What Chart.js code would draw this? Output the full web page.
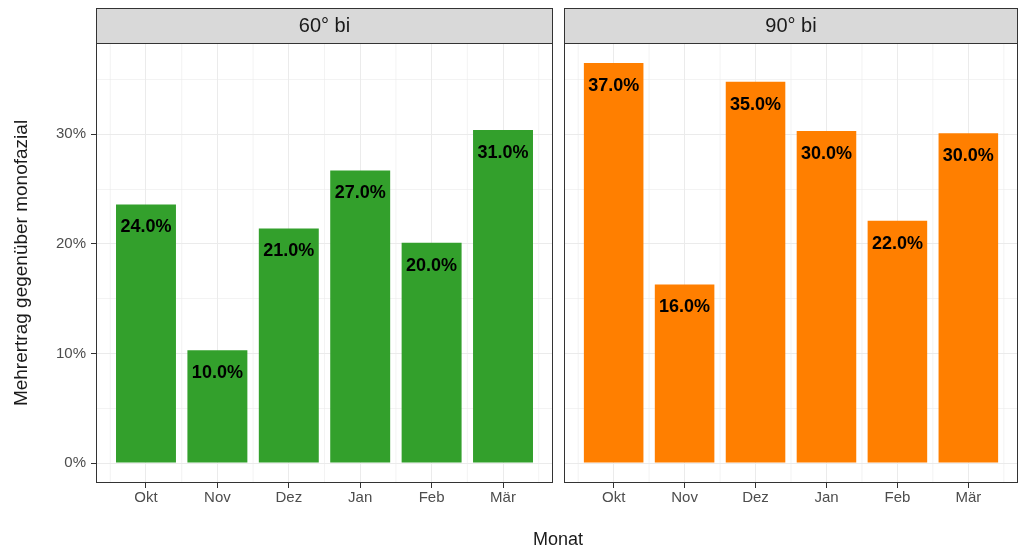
<!DOCTYPE html>
<html>
<head>
<meta charset="utf-8">
<script src="https://cdn.jsdelivr.net/npm/chart.js@4"></script>
<style>
  body { margin: 0; background: #fff; }
  #wrap { position: relative; width: 1021px; height: 552px; }
  canvas { position: absolute; top: 0; }
  #xTitle { position: absolute; left: 0; width: 1116px; top: 529px; text-align: center;
            font: 18px "Liberation Sans", Arial, sans-serif; color: #1a1a1a; }
</style>
</head>
<body>
<div id="wrap">
  <canvas id="c60" width="558" height="552" style="left:0"></canvas>
  <canvas id="c90" width="463" height="552" style="left:558px"></canvas>
  <div id="xTitle">Monat</div>
</div>
<script>
const months = ['Okt', 'Nov', 'Dez', 'Jan', 'Feb', 'Mär'];
const values60 = [23.6, 10.3, 21.4, 26.7, 20.1, 30.4];
const values90 = [36.5, 16.3, 34.8, 30.3, 22.1, 30.1];
const labels60 = ['24.0%', '10.0%', '21.0%', '27.0%', '20.0%', '31.0%'];
const labels90 = ['37.0%', '16.0%', '35.0%', '30.0%', '22.0%', '30.0%'];
const yTicks = [0, 5, 10, 15, 20, 25, 30, 35];

const FONT = '"Liberation Sans", Arial, sans-serif';
const GRID = '#ebebeb';

const panelPlugin = {
    id: 'panel',
    beforeDatasetsDraw(chart) {
        const ctx = chart.ctx;
        const a = chart.chartArea;
        const xs = chart.scales.x;
        ctx.save();
        ctx.strokeStyle = GRID;
        ctx.lineWidth = 0.6;
        for (let i = -0.5; i < months.length; i++) {
            const x = xs.getPixelForValue(i);
            ctx.beginPath();
            ctx.moveTo(x, a.top);
            ctx.lineTo(x, a.bottom);
            ctx.stroke();
        }
        ctx.restore();
    },
    afterDatasetsDraw(chart, args, opts) {
        const ctx = chart.ctx;
        const bars = chart.getDatasetMeta(0).data;
        ctx.save();
        ctx.fillStyle = '#000';
        ctx.font = 'bold 18px ' + FONT;
        ctx.textAlign = 'center';
        ctx.textBaseline = 'middle';
        bars.forEach((b, i) => {
            ctx.fillText(opts.labels[i], b.x, b.y + 23);
        });
        ctx.restore();
    },
    afterDraw(chart, args, opts) {
        const ctx = chart.ctx;
        const a = chart.chartArea;
        ctx.save();
        ctx.strokeStyle = '#333';
        ctx.lineWidth = 1;
        ctx.strokeRect(a.left + 0.5, a.top + 0.5, a.width - 1, a.height - 1);
        // facet strip
        ctx.fillStyle = '#d9d9d9';
        ctx.fillRect(a.left, 8, a.width, a.top - 8);
        ctx.strokeRect(a.left + 0.5, 8.5, a.width - 1, a.top - 8);
        ctx.fillStyle = '#1a1a1a';
        ctx.font = '20px ' + FONT;
        ctx.textAlign = 'center';
        ctx.textBaseline = 'middle';
        ctx.fillText(opts.title, (a.left + a.right) / 2, (8 + a.top) / 2 + 1);
        ctx.restore();
    }
};

function makeChart(id, values, labels, color, title, showY, padding) {
    const data = values.map((v, i) => ({ x: i, y: v }));
    return new Chart(document.getElementById(id), {
        type: 'bar',
        data: {
            datasets: [{
                data: data,
                backgroundColor: color,
                borderWidth: 0,
                barPercentage: 0.933,
                categoryPercentage: 0.9
            }]
        },
        options: {
            responsive: false,
            animation: false,
            layout: { padding: padding },
            plugins: {
                legend: { display: false },
                tooltip: { enabled: false },
                panel: { title: title, labels: labels }
            },
            scales: {
                x: {
                    type: 'linear',
                    offset: false,
                    min: -0.7,
                    max: 5.7,
                    afterBuildTicks: s => { s.ticks = months.map((m, i) => ({ value: i })); },
                    afterFit: s => { s.height = 69; },
                    border: { display: false },
                    grid: { offset: false, color: GRID, lineWidth: 1, tickLength: 5, tickColor: '#333' },
                    ticks: {
                        callback: v => months[v],
                        color: '#4d4d4d',
                        font: { family: FONT, size: 15 },
                        padding: 1,
                        maxRotation: 0
                    }
                },
                y: {
                    min: -1.825,
                    max: 38.33,
                    afterBuildTicks: s => { s.ticks = yTicks.map(v => ({ value: v })); },
                    afterFit: s => { s.width = showY ? 96 : 0; },
                    border: { display: false },
                    grid: {
                        color: GRID,
                        lineWidth: c => (c.tick && c.tick.value % 10 === 0) ? 1 : 0.6,
                        tickLength: showY ? 5 : 0,
                        tickColor: c => (c.tick && c.tick.value % 10 === 0) ? '#333' : 'rgba(0,0,0,0)'
                    },
                    ticks: {
                        display: showY,
                        callback: v => v % 10 === 0 ? v + '%' : '',
                        color: '#4d4d4d',
                        font: { family: FONT, size: 15 },
                        padding: 5
                    },
                    title: {
                        display: showY,
                        text: 'Mehrertrag gegenüber monofazial',
                        color: '#1a1a1a',
                        font: { family: FONT, size: 19 },
                        padding: { top: 10, bottom: 0 }
                    }
                }
            }
        },
        plugins: [panelPlugin]
    });
}

makeChart('c60', values60, labels60, '#33a02c', '60° bi', true, { top: 43, right: 5, left: 0, bottom: 0 });
makeChart('c90', values90, labels90, '#ff7f00', '90° bi', false, { top: 43, right: 3, left: 6, bottom: 0 });
</script>
</body>
</html>
